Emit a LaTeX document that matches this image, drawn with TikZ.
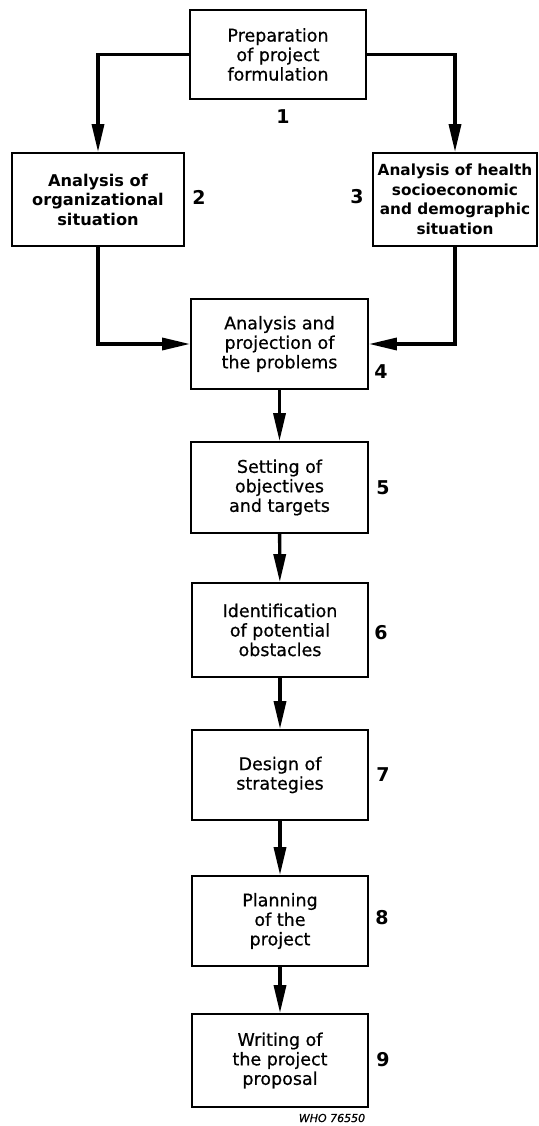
\documentclass[tikz,border=0pt]{standalone}
\usepackage{fontspec}
\setmainfont{DejaVu Sans}[FakeBold=0.6]
\newfontfamily\boxbold{DejaVu Sans Bold}
\usetikzlibrary{arrows.meta}
\begin{document}
\begin{tikzpicture}[x=1pt,y=-1pt,
  stepbox/.style={draw,line width=1.8pt,rectangle,align=center,inner sep=0pt,
    font=\fontsize{17.5}{19.5}\selectfont},
  boldbox/.style={stepbox,font=\fontsize{15.3}{19.5}\selectfont\boxbold},
  num/.style={font=\fontsize{19}{20}\selectfont\boxbold},
  flow/.style={line width=3.4pt,-{Triangle[length=28pt,width=12pt]}}]
\useasboundingbox (0,0) rectangle (538,1126);
% boxes
\node[stepbox,minimum width=176pt,minimum height=89pt] (b1) at (278,54.5)
  {Preparation\\of project\\formulation};
\node[boldbox,font=\fontsize{16.2}{19.5}\selectfont\boxbold,
  minimum width=172pt,minimum height=93pt] (b2) at (98,199.5)
  {Analysis of\\organizational\\situation};
\node[boldbox,minimum width=164pt,minimum height=93pt] (b3) at (455,199.5)
  {Analysis of health\\socioeconomic\\and demographic\\situation};
\node[stepbox,minimum width=177pt,minimum height=90pt] (b4) at (279.5,344)
  {Analysis and\\projection of\\the problems};
\node[stepbox,minimum width=177pt,minimum height=91pt] (b5) at (279.5,487.5)
  {Setting of\\objectives\\and targets};
\node[stepbox,minimum width=176pt,minimum height=94pt] (b6) at (280,630)
  {Identification\\of potential\\obstacles};
\node[stepbox,minimum width=176pt,minimum height=90pt] (b7) at (280,775)
  {Design of\\strategies};
\node[stepbox,minimum width=176pt,minimum height=90pt] (b8) at (280,921)
  {Planning\\of the\\project};
\node[stepbox,minimum width=176pt,minimum height=93pt] (b9) at (280,1060.5)
  {Writing of\\the project\\proposal};
% step numbers
\node[num] (n1) at (283,117) {1};
\node[num] (n2) at (199,197) {2};
\node[num] (n3) at (357,197) {3};
\node[num] (n4) at (381,372) {4};
\node[num] (n5) at (383,488) {5};
\node[num] (n6) at (381,633) {6};
\node[num] (n7) at (383,775) {7};
\node[num] (n8) at (382,918) {8};
\node[num] (n9) at (383,1060) {9};
\node[font=\fontsize{11}{12}\selectfont\itshape] (who) at (332,1118) {WHO 76550};
% connectors
\draw[flow] (b1.west) -| (b2.north);
\draw[flow] (b1.east) -| (b3.north);
\draw[flow] (b2.south) |- (b4.west);
\draw[flow] (b3.south) |- (b4.east);
\draw[flow] (b4) -- (b5);
\draw[flow] (b5) -- (b6);
\draw[flow] (b6) -- (b7);
\draw[flow] (b7) -- (b8);
\draw[flow] (b8) -- (b9);
\end{tikzpicture}
\end{document}
